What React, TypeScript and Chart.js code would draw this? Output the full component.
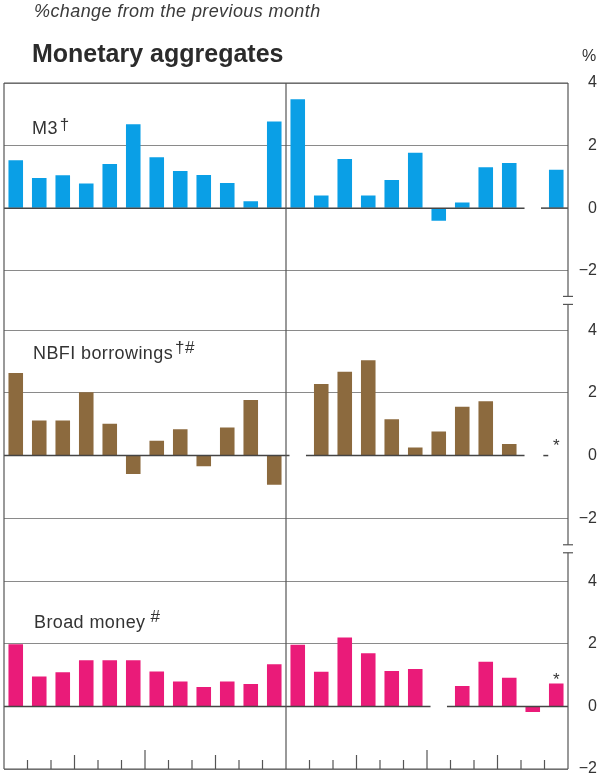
import React, { useEffect, useRef } from 'react';
import { Chart, registerables } from 'chart.js';
import type { ChartConfiguration, Plugin } from 'chart.js';

Chart.register(...registerables);

// two years of months, first year left of the divider
const months = [
  'Jan', 'Feb', 'Mar', 'Apr', 'May', 'Jun', 'Jul', 'Aug', 'Sep', 'Oct', 'Nov', 'Dec',
  'Jan', 'Feb', 'Mar', 'Apr', 'May', 'Jun', 'Jul', 'Aug', 'Sep', 'Oct', 'Nov', 'Dec',
];

// % change from the previous month (null = not published)
const m3 = [
  1.53, 0.96, 1.05, 0.79, 1.41, 2.68, 1.63, 1.19, 1.06, 0.8, 0.22, 2.77,
  3.48, 0.4, 1.57, 0.4, 0.9, 1.77, -0.4, 0.18, 1.31, 1.44, null, 1.23,
];
const nbfi = [
  2.64, 1.12, 1.12, 2.02, 1.02, -0.59, 0.47, 0.84, -0.34, 0.9, 1.78, -0.93,
  null, 2.29, 2.68, 3.05, 1.16, 0.26, 0.77, 1.56, 1.74, 0.37, null, 0,
];
const broadMoney = [
  1.99, 0.96, 1.09, 1.48, 1.48, 1.48, 1.12, 0.8, 0.62, 0.8, 0.72, 1.35,
  1.97, 1.11, 2.2, 1.7, 1.13, 1.2, null, 0.65, 1.43, 0.92, -0.18, 0.73,
];
const yTicks = [-2, 0, 2, 4];

const FONT = '"Liberation Sans", Arial, Helvetica, sans-serif';
const INK = '#333';
const GRID = '#8a8a8a';
const FRAME = '#555';

interface Panel {
  id: string;
  label: string;
  mark: string;
  data: (number | null)[];
  color: string;
  min: number;
  max: number;
  labelX: number;
  labelY: number;
  markGap: number;
  markRise: number;
  star?: { index: number; at: number };
}

const panels: Panel[] = [
  {
    id: 'm3', label: 'M3', mark: '†', data: m3, color: '#0a9fe6',
    min: -2.95, max: 4, labelX: 28, labelY: 2.36, markGap: 2, markRise: 4,
  },
  {
    id: 'nbfi', label: 'NBFI borrowings', mark: '†#', data: nbfi, color: '#8c6a3e',
    min: -2.98, max: 4.96, labelX: 29, labelY: 3.08, markGap: 2, markRise: 6,
    star: { index: 23, at: 0.16 },
  },
  {
    id: 'broad', label: 'Broad money', mark: '#', data: broadMoney, color: '#ea1b79',
    min: -2, max: 5.04, labelX: 30, labelY: 2.5, markGap: 5, markRise: 6,
    star: { index: 23, at: 0.7 },
  },
];

const framePlugin: Plugin<'bar'> = {
  id: 'frame',
  afterDatasetsDraw(chart) {
    const { ctx, chartArea: a, scales } = chart;
    const x = scales.x;
    const slot = x.getPixelForValue(1) - x.getPixelForValue(0);
    const edge = (i: number) => x.getPixelForValue(i) - slot / 2;
    const line = (x1: number, y1: number, x2: number, y2: number) => {
      ctx.beginPath();
      ctx.moveTo(x1, y1);
      ctx.lineTo(x2, y2);
      ctx.stroke();
    };
    ctx.save();

    // zero lines, broken where a month is missing
    ctx.strokeStyle = '#444';
    ctx.lineWidth = 1.5;
    panels.forEach((p) => {
      const y0 = scales[p.id].getPixelForValue(0);
      const segs: [number, number][] = [];
      p.data.forEach((v, i) => {
        if (v === null || v === 0) return;
        const c = x.getPixelForValue(i);
        const l = Math.max(a.left, c - 0.65 * slot);
        const r = Math.min(a.right, c + 0.65 * slot);
        const last = segs[segs.length - 1];
        if (last && l <= last[1]) last[1] = r;
        else segs.push([l, r]);
      });
      p.data.forEach((v, i) => {
        if (v === 0) {
          const c = x.getPixelForValue(i);
          segs.push([c - 0.55 * slot, c - 0.34 * slot]);
        }
      });
      segs.forEach(([l, r]) => line(l, y0, r, y0));
    });

    // frame
    ctx.strokeStyle = FRAME;
    ctx.lineWidth = 1.2;
    const mid = edge(12);
    line(a.left, a.top, a.left, a.bottom);
    line(mid, a.top, mid, a.bottom);
    line(a.left, a.top, a.right, a.top);
    line(a.left, a.bottom, a.right, a.bottom);

    // month ticks along the bottom
    for (let i = 1; i < months.length; i++) {
      if (i === 12) continue;
      const h = i % 6 === 0 ? 19 : i % 3 === 0 ? 14 : 9;
      line(edge(i), a.bottom, edge(i), a.bottom - h);
    }

    // right axis with breaks between panels
    panels.forEach((p, k) => {
      const s = scales[p.id];
      const top = k === 0 ? s.top : s.top + 4;
      const bot = k === panels.length - 1 ? s.bottom : s.bottom - 4;
      line(a.right, top, a.right, bot);
      if (k > 0) line(a.right - 5, top, a.right + 5, top);
      if (k < panels.length - 1) line(a.right - 5, bot, a.right + 5, bot);
    });

    // panel titles and footnote marks
    ctx.fillStyle = INK;
    ctx.textBaseline = 'alphabetic';
    panels.forEach((p) => {
      const s = scales[p.id];
      const y = s.getPixelForValue(p.labelY);
      const lx = a.left + p.labelX;
      ctx.textAlign = 'left';
      ctx.font = `18px ${FONT}`;
      (ctx as any).letterSpacing = '0.4px';
      ctx.fillText(p.label, lx, y);
      const w = ctx.measureText(p.label).width;
      ctx.font = `17px ${FONT}`;
      (ctx as any).letterSpacing = '0.5px';
      ctx.fillText(p.mark, lx + w + p.markGap, y - p.markRise);
      (ctx as any).letterSpacing = '0px';
      if (p.star) {
        ctx.textAlign = 'center';
        ctx.font = `17px ${FONT}`;
        ctx.fillText('*', x.getPixelForValue(p.star.index), s.getPixelForValue(p.star.at));
      }
    });
    ctx.restore();
  },
};

const yScale = (p: Panel) => ({
  type: 'linear' as const,
  position: 'right' as const,
  stack: 'panels',
  stackWeight: p.max - p.min,
  min: p.min,
  max: p.max,
  offset: false,
  border: { display: false },
  grid: {
    color: (c: any) => (c.tick && c.tick.value === 0 ? 'rgba(0,0,0,0)' : GRID),
    drawTicks: false,
    lineWidth: 1,
  },
  ticks: {
    font: { family: FONT, size: 16 },
    color: INK,
    padding: 0,
    crossAlign: 'far' as const,
    callback: (v: number | string) => String(v).replace('-', '\u2212'),
  },
  afterBuildTicks: (scale: any) => {
    scale.ticks = yTicks
      .filter((v) => v >= scale.min && v <= scale.max)
      .map((value) => ({ value }));
  },
  afterFit: (scale: any) => {
    scale.width = 29;
  },
});

const App: React.FC = () => {
  const canvasRef = useRef<HTMLCanvasElement>(null);

  useEffect(() => {
    if (!canvasRef.current) return;
    const scales: any = { x: { display: false, offset: true, grid: { display: false } } };
    panels.forEach((p) => {
      scales[p.id] = yScale(p);
    });

    const config: ChartConfiguration<'bar'> = {
      type: 'bar',
      data: {
        labels: months,
        datasets: panels.map((p) => ({
          label: p.label,
          data: p.data,
          yAxisID: p.id,
          backgroundColor: p.color,
          borderWidth: 0,
          grouped: false,
          barPercentage: 0.62,
          categoryPercentage: 1,
        })),
      },
      options: {
        responsive: false,
        animation: false,
        layout: { padding: { top: 83, left: 4, right: 3, bottom: 10 } },
        plugins: {
          legend: { display: false },
          tooltip: { enabled: false },
        },
        scales,
      },
      plugins: [framePlugin],
    };

    const chart = new Chart(canvasRef.current, config);
    return () => chart.destroy();
  }, []);

  return (
    <div style={{ position: 'absolute', left: 0, top: 0, width: 600, height: 779, background: '#fff', fontFamily: FONT }}>
      <canvas ref={canvasRef} width={600} height={779} style={{ position: 'absolute', left: 0, top: 0 }} />
      <div style={{ position: 'absolute', left: 34, top: 2, fontSize: 18, lineHeight: 1, fontStyle: 'italic', letterSpacing: 0.4, color: '#3a3a3a', whiteSpace: 'nowrap' }}>
        %change from the previous month
      </div>
      <div style={{ position: 'absolute', left: 32, top: 41, fontSize: 25, lineHeight: 1, fontWeight: 'bold', color: '#2b2b2b', whiteSpace: 'nowrap' }}>
        Monetary aggregates
      </div>
      <div style={{ position: 'absolute', left: 582, top: 48, fontSize: 16, lineHeight: 1, color: INK }}>%</div>
    </div>
  );
};

export default App;
